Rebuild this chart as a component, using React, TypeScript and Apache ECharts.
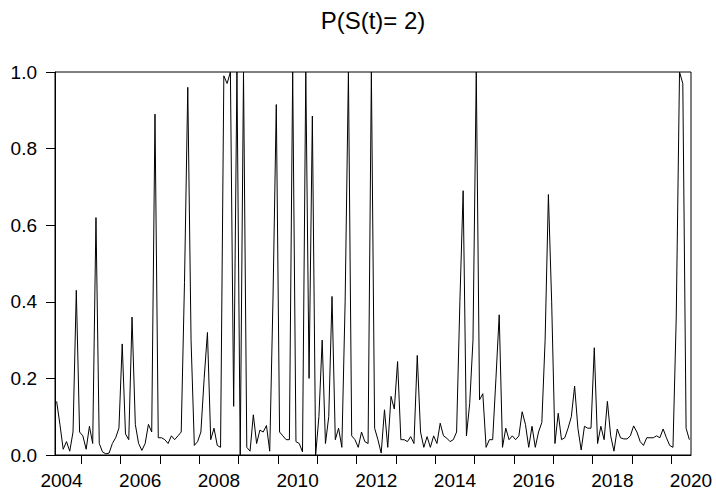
import React, { useEffect, useRef } from "react";
import * as echarts from "echarts";

const chartTitle = "P(S(t)= 2)";
const startYear = 2004;
const startMonth = 5; // first observation: 2004M05

const p2004 = [0.14, 0.08, 0.015, 0.035, 0.01, 0.06, 0.43, 0.06];
const p2005 = [0.05, 0.015, 0.075, 0.03, 0.62, 0.03, 0.008, 0.003, 0.005, 0.03, 0.045, 0.07];
const p2006 = [0.29, 0.055, 0.04, 0.36, 0.08, 0.03, 0.012, 0.03, 0.08, 0.06, 0.89, 0.045];
const p2007 = [0.045, 0.04, 0.03, 0.05, 0.04, 0.05, 0.06, 0.45, 0.96, 0.3, 0.025, 0.035];
const p2008 = [0.06, 0.2, 0.32, 0.04, 0.07, 0.025, 0.02, 0.99, 0.97, 1.0, 0.127, 1.0];
const p2009 = [0.0, 1.0, 0.02, 0.01, 0.105, 0.03, 0.065, 0.06, 0.077, 0.01, 0.41, 0.915];
const p2010 = [0.06, 0.05, 0.04, 0.04, 1.0, 0.035, 0.03, 0.008, 1.0, 0.2, 0.885, 0.0];
const p2011 = [0.1, 0.3, 0.03, 0.1, 0.414, 0.04, 0.07, 0.02, 0.4, 1.0, 0.05, 0.04];
const p2012 = [0.02, 0.06, 0.035, 0.03, 1.0, 0.07, 0.04, 0.005, 0.118, 0.02, 0.153, 0.12];
const p2013 = [0.244, 0.04, 0.04, 0.035, 0.048, 0.03, 0.26, 0.06, 0.02, 0.048, 0.02, 0.05];
const p2014 = [0.03, 0.083, 0.05, 0.044, 0.035, 0.04, 0.06, 0.4, 0.69, 0.05, 0.135, 0.3];
const p2015 = [1.0, 0.144, 0.16, 0.02, 0.04, 0.04, 0.2, 0.366, 0.02, 0.07, 0.04, 0.05];
const p2016 = [0.04, 0.05, 0.113, 0.08, 0.02, 0.075, 0.02, 0.06, 0.085, 0.3, 0.68, 0.4];
const p2017 = [0.03, 0.109, 0.04, 0.045, 0.07, 0.1, 0.18, 0.07, 0.013, 0.075, 0.07, 0.07];
const p2018 = [0.28, 0.03, 0.075, 0.04, 0.14, 0.05, 0.01, 0.068, 0.045, 0.042, 0.042, 0.05];
const p2019 = [0.076, 0.06, 0.035, 0.025, 0.045, 0.045, 0.045, 0.05, 0.045, 0.068, 0.045, 0.025];
const p2020 = [0.02, 0.36, 1.0, 0.97, 0.07, 0.04];

const probValues = [
  ...p2004, ...p2005, ...p2006, ...p2007, ...p2008, ...p2009, ...p2010, ...p2011,
  ...p2012, ...p2013, ...p2014, ...p2015, ...p2016, ...p2017, ...p2018, ...p2019, ...p2020,
];

const tickYears = [2005, 2006, 2007, 2008, 2009, 2010, 2011, 2012, 2013, 2014, 2015, 2016, 2017, 2018, 2019, 2020];
const labelYears = [2004, 2006, 2008, 2010, 2012, 2014, 2016, 2018, 2020];
const yTickLabels = ["0.0", "0.2", "0.4", "0.6", "0.8", "1.0"];

const FONT = '"Liberation Sans", Arial, Helvetica, sans-serif';

export default function App() {
  const ref = useRef<HTMLDivElement>(null);

  useEffect(() => {
    if (!ref.current) return;
    const chart = echarts.init(ref.current, null, { renderer: "svg" });

    // monthly observations placed at the middle of each month (decimal years)
    const seriesData = probValues.map((v, k) => {
      const m = startMonth - 1 + k;
      const yr = startYear + Math.floor(m / 12);
      const mo = (m % 12) + 1;
      return [yr + (mo - 0.5) / 12, v];
    });
    const xMin = startYear + (startMonth - 1) / 12;
    const xMax = xMin + probValues.length / 12;

    chart.setOption({
      animation: false,
      backgroundColor: "#ffffff",
      graphic: [
        {
          type: "text",
          x: 373,
          y: 8,
          style: {
            text: chartTitle,
            align: "center",
            verticalAlign: "top",
            fontSize: 24,
            fontFamily: FONT,
            fill: "#000000",
          },
        },
      ],
      grid: {
        left: 55,
        top: 72,
        width: 636,
        height: 383,
        show: true,
        borderColor: "#000000",
        borderWidth: 1,
        backgroundColor: "transparent",
      },
      xAxis: {
        type: "value",
        position: "bottom",
        min: xMin,
        max: xMax,
        axisLine: { show: true, lineStyle: { color: "#000000", width: 1 } },
        axisTick: {
          show: true,
          inside: false,
          length: 9,
          customValues: tickYears,
          lineStyle: { color: "#000000", width: 1 },
        },
        axisLabel: {
          show: true,
          customValues: labelYears.map((y) => Math.min(y + 0.5, xMax)),
          formatter: (v: number) => String(Math.floor(v)),
          margin: 16,
          fontSize: 19,
          fontFamily: FONT,
          color: "#000000",
        },
        splitLine: { show: false },
      },
      yAxis: {
        type: "value",
        min: 0,
        max: 1,
        interval: 0.2,
        axisLine: { show: true, lineStyle: { color: "#000000", width: 1 } },
        axisTick: { show: true, inside: false, length: 9, lineStyle: { color: "#000000", width: 1 } },
        axisLabel: {
          formatter: (v: number) => yTickLabels[Math.round(v * 5)] ?? v.toFixed(1),
          margin: 18,
          fontSize: 19,
          fontFamily: FONT,
          color: "#000000",
        },
        splitLine: { show: false },
      },
      series: [
        {
          type: "line",
          data: seriesData,
          showSymbol: false,
          symbol: "none",
          lineStyle: { color: "#000000", width: 1 },
          clip: true,
        },
      ],
    });

    return () => chart.dispose();
  }, []);

  return (
    <div
      ref={ref}
      style={{ position: "fixed", left: 0, top: 0, width: 716, height: 491, background: "#fff" }}
    />
  );
}
